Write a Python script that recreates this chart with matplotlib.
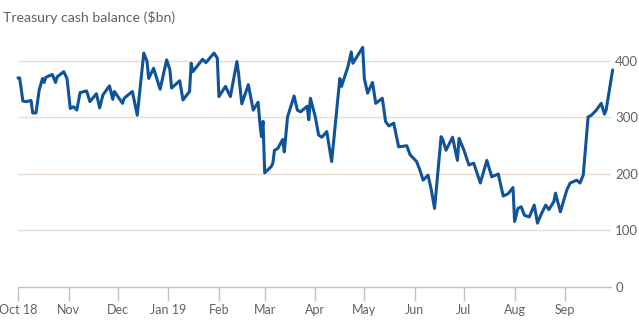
import matplotlib
matplotlib.use("Agg")
import matplotlib.pyplot as plt
import pandas as pd

plt.rcParams['font.family'] = ['Lato', 'DejaVu Sans']

# Treasury general account balance, $bn
dates = [
    '2018-10-01', '2018-10-02', '2018-10-04', '2018-10-06', '2018-10-09', '2018-10-10',
    '2018-10-12', '2018-10-14', '2018-10-16', '2018-10-17', '2018-10-18', '2018-10-22',
    '2018-10-24', '2018-10-25', '2018-10-29', '2018-10-31',
    '2018-11-02', '2018-11-04', '2018-11-06', '2018-11-08', '2018-11-12', '2018-11-14',
    '2018-11-18', '2018-11-20', '2018-11-22', '2018-11-26', '2018-11-28', '2018-11-29',
    '2018-12-04', '2018-12-05', '2018-12-10', '2018-12-13', '2018-12-17', '2018-12-19',
    '2018-12-20', '2018-12-23', '2018-12-27', '2018-12-31',
    '2019-01-02', '2019-01-03', '2019-01-08', '2019-01-10', '2019-01-14', '2019-01-15',
    '2019-01-16', '2019-01-22', '2019-01-24', '2019-01-29', '2019-01-31',
    '2019-02-01', '2019-02-05', '2019-02-08', '2019-02-12', '2019-02-13', '2019-02-15',
    '2019-02-19', '2019-02-22', '2019-02-25', '2019-02-26', '2019-02-27', '2019-02-28',
    '2019-03-01', '2019-03-05', '2019-03-06', '2019-03-07', '2019-03-09', '2019-03-12',
    '2019-03-13', '2019-03-15', '2019-03-19', '2019-03-21', '2019-03-23', '2019-03-27',
    '2019-03-28', '2019-03-29',
    '2019-04-01', '2019-04-03', '2019-04-05', '2019-04-08', '2019-04-11', '2019-04-16',
    '2019-04-17', '2019-04-21', '2019-04-23', '2019-04-24', '2019-04-30',
    '2019-05-01', '2019-05-03', '2019-05-06', '2019-05-08', '2019-05-12', '2019-05-14',
    '2019-05-16', '2019-05-19', '2019-05-22', '2019-05-27', '2019-05-29',
    '2019-06-02', '2019-06-04', '2019-06-06', '2019-06-09', '2019-06-11', '2019-06-13',
    '2019-06-17', '2019-06-18', '2019-06-20', '2019-06-24', '2019-06-27', '2019-06-28',
    '2019-07-01', '2019-07-04', '2019-07-07', '2019-07-11', '2019-07-15', '2019-07-18',
    '2019-07-22', '2019-07-25', '2019-07-28', '2019-07-31',
    '2019-08-01', '2019-08-03', '2019-08-05', '2019-08-07', '2019-08-10', '2019-08-13',
    '2019-08-15', '2019-08-17', '2019-08-20', '2019-08-22', '2019-08-25', '2019-08-26',
    '2019-08-29',
    '2019-09-02', '2019-09-04', '2019-09-08', '2019-09-10', '2019-09-12', '2019-09-15',
    '2019-09-17', '2019-09-19', '2019-09-20', '2019-09-23', '2019-09-25', '2019-09-26',
    '2019-09-30',
]
balance = [
    370, 370, 329, 328, 330, 308,
    308, 349, 369, 362, 371, 376,
    362, 372, 381, 369,
    316, 319, 313, 344, 347, 328,
    342, 317, 340, 356, 332, 346,
    325, 334, 346, 304, 414, 399,
    369, 387, 350, 402,
    384, 352, 365, 331, 346, 396,
    381, 403, 397, 414, 405,
    337, 355, 337, 399, 378, 324,
    358, 313, 327, 292, 266, 293,
    202, 213, 219, 242, 245, 261,
    239, 301, 338, 313, 310, 320,
    296, 334,
    301, 269, 265, 275, 222, 369,
    355, 390, 416, 396, 424,
    369, 343, 362, 325, 334, 293,
    285, 290, 248, 250, 234,
    222, 207, 189, 198, 172, 139,
    266, 261, 242, 265, 224, 263,
    242, 216, 219, 184, 224, 195,
    200, 161, 165, 176,
    116, 139, 142, 127, 124, 145,
    113, 127, 145, 137, 151, 166,
    133,
    172, 184, 189, 184, 198, 301,
    304, 310, 313, 325, 306, 313,
    384,
]

month_ticks = pd.date_range('2018-10-01', '2019-09-01', freq='MS')
month_labels = ['Oct 18', 'Nov', 'Dec', 'Jan 19', 'Feb', 'Mar', 'Apr',
                'May', 'Jun', 'Jul', 'Aug', 'Sep']
y_ticks = [0, 100, 200, 300, 400]

grid_col = '#eadbd0'
axis_col = '#c9c0b8'
text_col = '#66605c'

fig = plt.figure(figsize=(6.39, 3.26), dpi=100)
ax = fig.add_axes([18/639, 39/326, 593/639, 243/326])

ax.plot(pd.to_datetime(dates), balance, color='#0f5499', lw=2.2,
        solid_joinstyle='round', solid_capstyle='round', zorder=3, clip_on=False)

ax.set_xlim(pd.Timestamp('2018-10-01'), pd.Timestamp('2019-09-29'))
ax.set_ylim(0, 430)

for s in ['top', 'left', 'right']:
    ax.spines[s].set_visible(False)
ax.spines['bottom'].set_color(axis_col)
ax.spines['bottom'].set_linewidth(1.0)

ax.set_xticks(month_ticks)
ax.set_xticklabels(month_labels)
ax.tick_params(axis='x', length=10, width=1, color=axis_col, labelcolor=text_col,
               labelsize=9, pad=2)
# keep the first label inside the figure
ax.get_xticklabels()[0].set_x(pd.Timestamp('2018-10-02'))

ax.yaxis.tick_right()
ax.set_yticks(y_ticks)
ax.tick_params(axis='y', length=0, labelcolor=text_col, labelsize=9.5, pad=3)
for v in y_ticks[1:]:
    ax.axhline(v, color=grid_col, lw=1.0, zorder=1)

fig.text(3/639, 1 - 18/326, 'Treasury cash balance ($bn)', color=text_col,
         fontsize=10.2, va='center', ha='left')

fig.savefig('out.png', dpi=100)
